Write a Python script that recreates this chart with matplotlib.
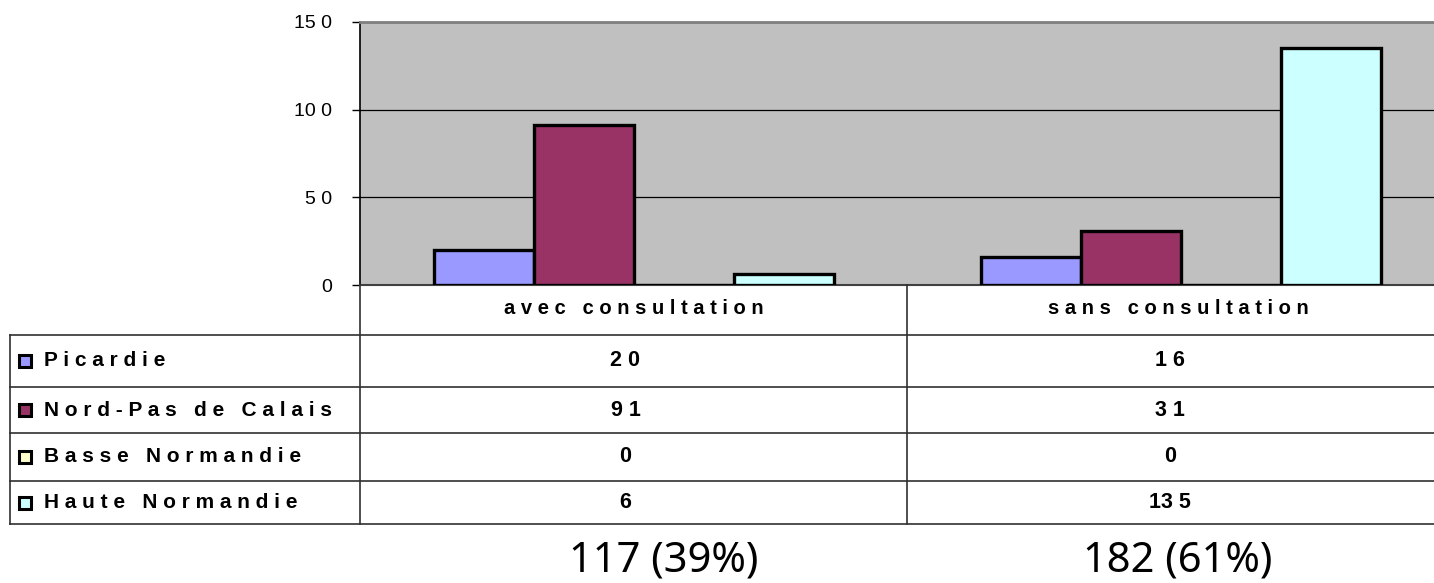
import matplotlib
matplotlib.use("Agg")
import matplotlib.pyplot as plt
from matplotlib.lines import Line2D
from matplotlib.patches import Rectangle

# ---- data ----
categories = ["avec consultation", "sans consultation"]
regions = ["Picardie", "Nord-Pas de Calais", "Basse Normandie", "Haute Normandie"]
picardie = [20, 16]
nord_pas_de_calais = [91, 31]
basse_normandie = [0, 0]
haute_normandie = [6, 135]
totals = ["117 (39%)", "182 (61%)"]
yticks = [0, 50, 100, 150]

series = [picardie, nord_pas_de_calais, basse_normandie, haute_normandie]
colors = ["#9999FF", "#993366", "#FFFFCC", "#CCFFFF"]

W, H = 1434, 583
FAM = ['Liberation Sans', 'DejaVu Sans']
plt.rcParams['font.family'] = FAM
fig = plt.figure(figsize=(W / 100, H / 100), dpi=100)


def fx(x):
    return x / W


def fy(y):
    return 1 - y / H


def numfmt(v):
    s = str(v)
    return s if len(s) == 1 else s[:-1] + " " + s[-1]


def letters(s):
    return " ".join(list(s))


# plot area
left, right, top, bottom = 360, 360 + 2 * 547, 22, 285
ax = fig.add_axes([fx(left), fy(bottom), (right - left) / W, (bottom - top) / H])
ax.set_facecolor("#C0C0C0")
ax.set_xlim(-0.5, 1.5)
ax.set_ylim(0, 150)
w = 100 / 547
for i, (vals, c) in enumerate(zip(series, colors)):
    xs = [k + (i - 1.5) * w for k in range(len(categories))]
    ax.bar(xs, vals, width=w, color=c, edgecolor="black", linewidth=2.4, zorder=3)
ax.set_yticks(yticks)
ax.set_yticklabels([numfmt(v) for v in yticks], fontsize=14)
ax.yaxis.grid(True, color="black", linewidth=0.9, zorder=1)
ax.set_axisbelow(True)
ax.set_xticks([])
ax.tick_params(axis="y", length=6, width=1, pad=14, colors="black")
ax.spines["right"].set_visible(False)
ax.spines["top"].set_color("#808080")
ax.spines["top"].set_linewidth(2)
ax.spines["left"].set_linewidth(1.2)
ax.spines["bottom"].set_linewidth(1.5)
ax.spines["bottom"].set_color("#404040")

# ---- data table ----
lc = "#303030"
row_lines = [335, 387, 433, 481, 524]
for y in row_lines:
    fig.add_artist(Line2D([fx(10), fx(W)], [fy(y), fy(y)], color=lc, linewidth=1.2))
fig.add_artist(Line2D([fx(10), fx(10)], [fy(335), fy(524)], color=lc, linewidth=1.2))
fig.add_artist(Line2D([fx(360), fx(360)], [fy(285), fy(524)], color=lc, linewidth=1.2))
fig.add_artist(Line2D([fx(907), fx(907)], [fy(285), fy(524)], color=lc, linewidth=1.2))

cat_centers = [633.5, 1178]
for cx, cat in zip(cat_centers, categories):
    fig.text(fx(cx), fy(309), letters(cat), ha="center", va="center",
             fontsize=14.5, fontweight="bold")

row_centers = [(row_lines[i] + row_lines[i + 1]) / 2 for i in range(4)]
for r, (name, vals, c) in enumerate(zip(regions, series, colors)):
    yc = row_centers[r]
    fig.add_artist(Rectangle((fx(19), fy(yc + 6)), 12 / W, 12 / H,
                             facecolor=c, edgecolor="black", linewidth=2.2))
    fig.text(fx(44), fy(yc), letters(name), ha="left", va="center",
             fontsize=15, fontweight="bold")
    for cx, v in zip(cat_centers, vals):
        fig.text(fx(cx - 8), fy(yc), numfmt(v), ha="center", va="center",
                 fontsize=15.5, fontweight="bold")

total_x = [664, 1178]
for cx, t in zip(total_x, totals):
    fig.text(fx(cx), fy(560), t, ha="center", va="center", fontsize=30,
             family=["Noto Sans", "DejaVu Sans"])

fig.savefig("out.png", dpi=100)
